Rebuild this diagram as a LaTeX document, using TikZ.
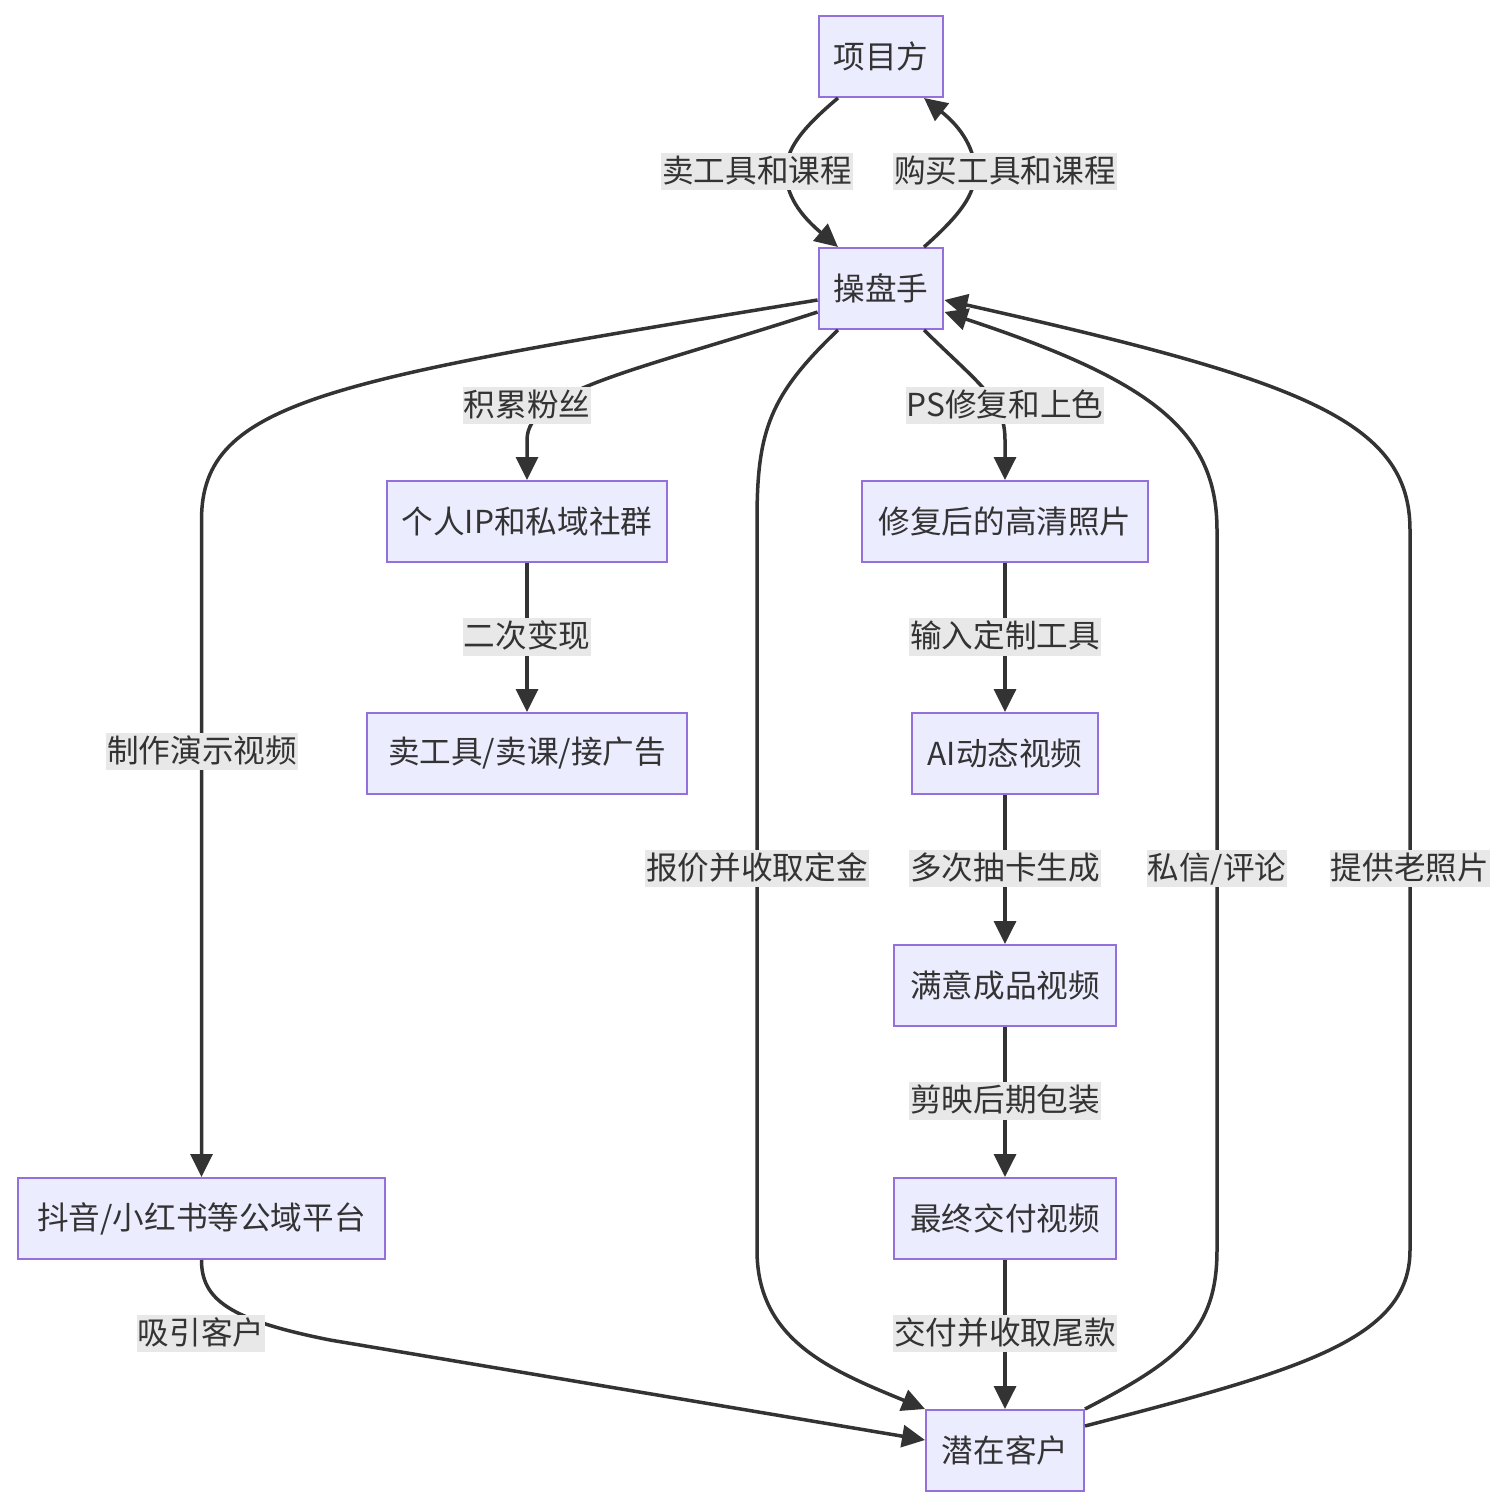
\documentclass[tikz,border=0pt]{standalone}
\usepackage{fontspec}
\setmainfont{Noto Sans CJK SC}
\usetikzlibrary{arrows.meta,calc}
\definecolor{nodefill}{HTML}{ECECFF}
\definecolor{nodeline}{HTML}{9370DB}
\definecolor{ink}{HTML}{333333}
\definecolor{lblbg}{HTML}{E8E8E8}
\begin{document}
\begin{tikzpicture}[x=0.02cm,y=-0.02cm,
  box/.style={draw=nodeline, fill=nodefill, line width=0.04cm, minimum height=1.62cm,
    inner xsep=0.3cm, text=ink, font=\fontsize{18}{22}\selectfont},
  conn/.style={draw=ink, line width=0.07cm, -{Triangle[length=0.46cm,width=0.44cm]}},
  lbl/.style={fill=lblbg, text=ink, inner xsep=0.5pt, inner ysep=0pt,
    text height=16.6pt, text depth=4.5pt, font=\fontsize{18}{22}\selectfont}]
\useasboundingbox (0,0) rectangle (1508,1508);

% nodes
\node[box] (xm) at (881,56.5) {项目方};
\node[box] (cp) at (881,288.5) {操盘手};
\node[box, minimum width=5.6cm] (ip) at (527,521.5) {个人IP和私域社群};
\node[box, minimum width=5.72cm] (hd) at (1005,521.5) {修复后的高清照片};
\node[box, minimum width=6.4cm] (sell) at (527,753.5) {卖工具/卖课/接广告};
\node[box, minimum width=3.72cm] (ai) at (1005,753.5) {AI动态视频};
\node[box, minimum width=4.44cm] (ok) at (1005,985.5) {满意成品视频};
\node[box, minimum width=7.34cm] (dy) at (201.5,1218.5) {抖音/小红书等公域平台};
\node[box, minimum width=4.44cm] (fin) at (1005,1218.5) {最终交付视频};
\node[box, minimum width=3.16cm] (kh) at (1005,1450.5) {潜在客户};

% connectors
\draw[conn] ($(xm.south)+(-43,0)$) .. controls (800,130) and (786,150) .. (786,172)
  .. controls (786,195) and (800,215) .. ($(cp.north)+(-43,0)$);
\draw[conn] ($(cp.north)+(43,0)$) .. controls (960,215) and (975,195) .. (975,172)
  .. controls (975,150) and (962,128) .. ($(xm.south)+(43,0)$);
\draw[conn] ($(cp.west)+(0,11.5)$) .. controls (330,380) and (201.5,400) .. (201.5,520) -- (dy.north);
\draw[conn] ($(cp.west)+(0,23.5)$) .. controls (640,370) and (527,390) .. (527,440) -- (ip.north);
\draw[conn] ($(cp.south)+(-43,0)$) .. controls (770,395) and (757,430) .. (757,520) -- (757,1250)
  .. controls (757,1340) and (830,1370) .. (kh.north west);
\draw[conn] ($(cp.south)+(43,0)$) .. controls (980,385) and (1005,400) .. (1005,440) -- (hd.north);
\draw[conn] (kh.north east) .. controls (1180,1360) and (1217,1330) .. (1217,1250) -- (1217,530)
  .. controls (1217,430) and (1150,380) .. ($(cp.east)+(0,23.5)$);
\draw[conn] ($(kh.east)+(0,-24.5)$) .. controls (1300,1370) and (1410,1340) .. (1410,1250) -- (1410,530)
  .. controls (1410,420) and (1300,380) .. ($(cp.east)+(0,11.5)$);
\draw[conn] (ip) -- (sell);
\draw[conn] (hd) -- (ai);
\draw[conn] (ai) -- (ok);
\draw[conn] (ok) -- (fin);
\draw[conn] (fin) -- (kh);
\draw[conn] (dy.south) .. controls (201.5,1300) and (230,1320) .. (330,1340) -- ($(kh.west)+(0,-10.5)$);

% labels
\node[lbl] (l1) at (757,171.5) {卖工具和课程};
\node[lbl] (l2) at (1005,171.5) {购买工具和课程};
\node[lbl] (l3) at (527,405.5) {积累粉丝};
\node[lbl] (l4) at (1005,405.5) {PS修复和上色};
\node[lbl] (l5) at (527,637) {二次变现};
\node[lbl] (l6) at (1005,637) {输入定制工具};
\node[lbl] (l7) at (202,751.5) {制作演示视频};
\node[lbl] (l8) at (757,868.5) {报价并收取定金};
\node[lbl] (l9) at (1005,868.5) {多次抽卡生成};
\node[lbl] (l10) at (1217,868.5) {私信/评论};
\node[lbl] (l11) at (1410,868.5) {提供老照片};
\node[lbl] (l12) at (1005,1101) {剪映后期包装};
\node[lbl] (l13) at (1005,1333.5) {交付并收取尾款};
\node[lbl] (l14) at (201,1333.5) {吸引客户};
\end{tikzpicture}
\end{document}
